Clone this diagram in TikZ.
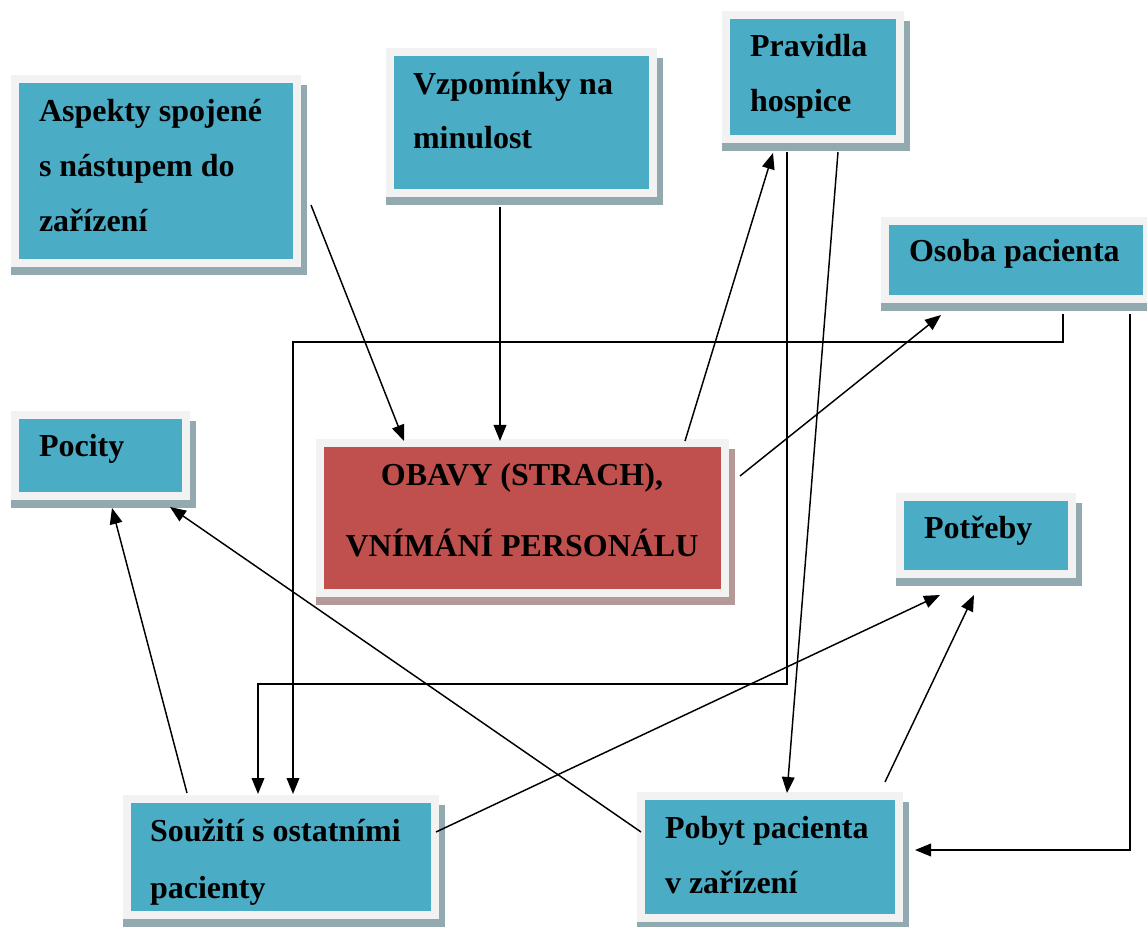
\documentclass[tikz,border=0pt]{standalone}
\usepackage{fontspec}
\setmainfont{Liberation Serif}
\usetikzlibrary{arrows.meta,fit,backgrounds,calc}
\definecolor{teal1}{HTML}{4BACC6}
\definecolor{frame1}{HTML}{F2F2F2}
\definecolor{shad1}{HTML}{93A9B0}
\definecolor{red1}{HTML}{C0504D}
\definecolor{shad2}{HTML}{B59999}
\newcommand{\twolines}[3]{\vtop{\baselineskip=#1\hbox{#2}\hbox{#3}}}
\newcommand{\threelines}[4]{\vtop{\baselineskip=#1\hbox{#2}\hbox{#3}\hbox{#4}}}
\tikzset{
  box/.style={rectangle, inner sep=0pt, outer sep=0pt, fill=teal1, draw=frame1, line width=6pt},
  redbox/.style={box, fill=red1},
  lbl/.style={font=\bfseries\fontsize{24}{28}\selectfont, inner sep=0pt, outer sep=0pt, anchor=base west},
  conn/.style={line width=1.1pt, -{Triangle[length=12pt,width=9.5pt]}},
  shadowbox/.style={fill=shad1},
}
\begin{document}
\begin{tikzpicture}[x=0.75pt,y=-0.75pt]
\useasboundingbox (0,0) rectangle (1147,927);

% boxes
\node[box, fit={(14.7,79) (297,263)}] (asp) {};
\node[box, fit={(389.7,52.3) (652.7,192.7)}] (vzp) {};
\node[box, fit={(725.7,14.7) (900,138.7)}] (pra) {};
\node[box, fit={(884.7,221) (1147,299)}] (oso) {};
\node[box, fit={(14.7,414.7) (186,496)}] (poc) {};
\node[redbox, fit={(319.7,443) (725,592.7)}] (oba) {};
\node[box, fit={(899.7,496.7) (1072,574)}] (pot) {};
\node[box, fit={(126.7,799) (435.3,915)}] (sou) {};
\node[box, fit={(640.7,795.7) (899,917.7)}] (pob) {};

% background and shadows
\begin{scope}[on background layer]
  \fill[white] (0,0) rectangle (1147,927);
  \foreach \n in {asp,vzp,pra,oso,poc,pot,sou,pob}
    \fill[shadowbox] ($(\n.north west)+(-4,6)$) rectangle ($(\n.south east)+(10,12)$);
  \fill[shad2] ($(oba.north west)+(-4,6)$) rectangle ($(oba.south east)+(10,12)$);
\end{scope}

% texts
\node[lbl] (aspT) at (39,122) {\threelines{41.25pt}{Aspekty spojené}{s nástupem do}{zařízení}};
\node[lbl] (vzpT) at (413,95) {\twolines{40pt}{Vzpomínky na}{minulost}};
\node[lbl] (praT) at (750,57) {\twolines{41.25pt}{Pravidla}{hospice}};
\node[lbl] (osoT) at (909,262) {Osoba pacienta};
\node[lbl] (pocT) at (39,457) {Pocity};
\node[lbl, anchor=base] (obaT) at (522,485) {\vtop{\baselineskip=54pt\halign{\hfil#\hfil\cr OBAVY (STRACH),\cr VNÍMÁNÍ PERSONÁLU\cr}}};
\node[lbl] (potT) at (924,538) {Potřeby};
\node[lbl] (souT) at (150,841) {\twolines{42.75pt}{Soužití s ostatními}{pacienty}};
\node[lbl] (pobT) at (665,838) {\twolines{41.25pt}{Pobyt pacienta}{v zařízení}};

% connector end points
\coordinate (a1) at (311,205);   \coordinate (a2) at (404,441);
\coordinate (b1) at (500,207);   \coordinate (b2) at (500,441);
\coordinate (c1) at (685,441);   \coordinate (c2) at (773,153);
\coordinate (d1) at (787,152);   \coordinate (d2) at (258,794);
\coordinate (e1) at (838,152);   \coordinate (e2) at (787,793);
\coordinate (f1) at (740,476);   \coordinate (f2) at (941,315);
\coordinate (g1) at (1063,314);  \coordinate (g2) at (293,794);
\coordinate (h1) at (1130,314);  \coordinate (h2) at (915,850);
\coordinate (i1) at (187,793);   \coordinate (i2) at (112,508);
\coordinate (j1) at (641,832);   \coordinate (j2) at (170,507);
\coordinate (k1) at (436,832);   \coordinate (k2) at (940,595);
\coordinate (l1) at (885,782);   \coordinate (l2) at (974,595);

% connectors
\draw[conn] (a1) -- (a2);
\draw[conn] (b1) -- (b2);
\draw[conn] (c1) -- (c2);
\draw[conn] (d1) -- (787,684) -- (258,684) -- (d2);
\draw[conn] (e1) -- (e2);
\draw[conn] (f1) -- (f2);
\draw[conn] (g1) -- (1063,342) -- (293,342) -- (g2);
\draw[conn] (h1) -- (1130,850) -- (h2);
\draw[conn] (i1) -- (i2);
\draw[conn] (j1) -- (j2);
\draw[conn] (k1) -- (k2);
\draw[conn] (l1) -- (l2);
\end{tikzpicture}
\end{document}
